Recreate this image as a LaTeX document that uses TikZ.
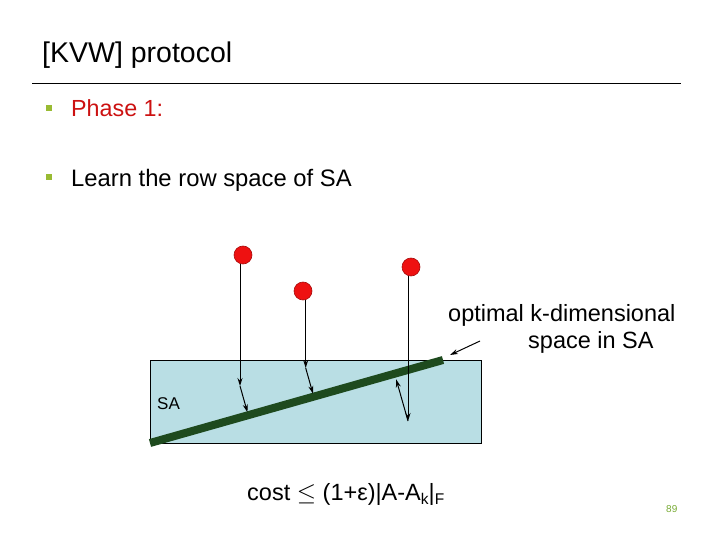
\documentclass[tikz,border=0pt]{standalone}
\usepackage{fontspec}
\setmainfont{Liberation Sans}
\usetikzlibrary{calc,arrows.meta}
\definecolor{sablue}{HTML}{B9DEE4}
\definecolor{lineg}{HTML}{1E4A1E}
\definecolor{bulletg}{HTML}{99BB33}
\definecolor{phasered}{HTML}{CC1111}
\definecolor{dotred}{HTML}{EE1111}
\definecolor{pagegreen}{HTML}{77AA33}
\begin{document}
\begin{tikzpicture}[x=1pt,y=-1pt,
  txt/.style={anchor=base west,inner sep=0pt},
  bul/.style={fill=bulletg,draw=none,minimum size=6pt,inner sep=0pt},
  dot/.style={circle,fill=dotred,draw=dotred!70!black,line width=0.6pt,minimum size=18pt,inner sep=0pt},
  arr/.style={-{Stealth[length=8pt,width=5pt]},line width=1pt},
]
\useasboundingbox (0,0) rectangle (720,540);
% title
\node[txt,font=\fontsize{28.5}{32}\selectfont] (title) at (42,63) {[KVW] protocol};
\coordinate (rl) at (32,83);
\coordinate (rr) at (681,83);
\draw[line width=0.7pt] (rl) -- (rr);
% bullets
\node[bul] (b1) at (49,108) {};
\node[txt,font=\fontsize{23.3}{26}\selectfont,text=phasered] (p1) at (71,117) {Phase 1:};
\node[bul] (b2) at (49,177) {};
\node[txt,font=\fontsize{23.8}{26}\selectfont] (p2) at (71,187) {Learn the row space of SA};
% box
\node[draw=black,fill=sablue,line width=0.6pt,minimum width=331pt,minimum height=83pt,inner sep=0pt,anchor=north west] (box) at (150,360) {};
\node[txt,font=\fontsize{17}{20}\selectfont] (sa) at (157,409) {SA};
% subspace line
\coordinate (la) at (150,443);
\coordinate (lb) at (443,360);
\draw[lineg,line width=8pt] (la) -- (lb);
% points
\node[dot] (d1) at (243,255) {};
\node[dot] (d2) at (303,291) {};
\node[dot] (d3) at (411,267) {};
\coordinate (e1) at (240,386);
\coordinate (e2) at (305.7,368);
\coordinate (e3) at (408,421);
\draw[arr] (d1.south -| e1) -- (e1);
\draw[arr] (d2.south -| e2) -- (e2);
\draw[arr] (d3.south -| e3) -- (e3);
\coordinate (f1) at ($(la)!(e1)!(lb)$);
\coordinate (f2) at ($(la)!(e2)!(lb)$);
\coordinate (f3) at ($(la)!(e3)!(lb)$);
\draw[arr] (e1) -- ($(e1)!0.9!(f1)$);
\draw[arr] (e2) -- ($(e2)!0.9!(f2)$);
\draw[arr] (e3) -- ($(e3)!0.88!(f3)$);
% label
\node[txt,font=\fontsize{23.5}{26}\selectfont] (o1) at (448,321) {optimal k-dimensional};
\node[txt,font=\fontsize{23.5}{26}\selectfont] (o2) at (528,348) {space in SA};
\coordinate (as) at (480,341);
\coordinate (ae) at (450,355);
\draw[arr] (as) -- (ae);
% cost
\node[txt,font=\fontsize{23.5}{26}\selectfont] (cost) at (247,500) {cost $\leq$ (1+ε)|A-A\raisebox{-4pt}{\fontsize{15.5}{15}\selectfont k}|\raisebox{-4pt}{\fontsize{15.5}{15}\selectfont F}};
% page number
\node[txt,font=\fontsize{10}{12}\selectfont,text=pagegreen] (pg) at (666,512) {89};
\end{tikzpicture}
\end{document}
